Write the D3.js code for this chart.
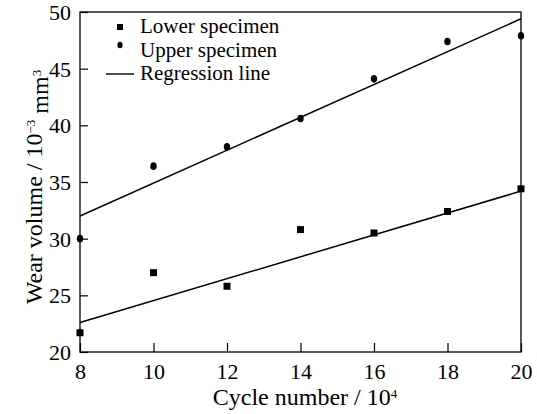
<!DOCTYPE html>
<html>
<head>
<meta charset="utf-8">
<script src="https://cdn.jsdelivr.net/npm/d3@7"></script>
<style>
  body { margin: 0; background: #fff; }
  text { font-family: "Liberation Serif", "Times New Roman", serif; fill: #000; }
</style>
</head>
<body>
<div id="chart"></div>
<script>
// chart values
var cycles = [8, 10, 12, 14, 16, 18, 20];
var lowerWear = [21.7, 27.0, 25.8, 30.8, 30.5, 32.4, 34.4];
var upperWear = [30.0, 36.4, 38.1, 40.6, 44.1, 47.4, 47.9];
// regression lines (end points)
var regX = [8, 20];
var lowerReg = [22.6, 34.2];
var upperReg = [32.0, 49.4];
var xTicks = [8, 10, 12, 14, 16, 18, 20];
var yTicks = [20, 25, 30, 35, 40, 45, 50];

var svgWidth = 537;
var svgHeight = 414;
var margin = { top: 12, right: 16, bottom: 62, left: 80 };
var width = svgWidth - margin.left - margin.right;
var height = svgHeight - margin.top - margin.bottom;

var svg = d3.select("#chart")
  .append("svg")
  .attr("width", svgWidth)
  .attr("height", svgHeight);

var chartGroup = svg.append("g")
  .attr("transform", `translate(${margin.left}, ${margin.top})`);

var x = d3.scaleLinear().domain([8, 20]).range([0, width]);
var y = d3.scaleLinear().domain([20, 50]).range([height, 0]);

// frame
chartGroup.append("rect")
  .attr("width", width)
  .attr("height", height)
  .attr("fill", "none")
  .attr("stroke", "#000")
  .attr("stroke-width", 1.3);

// axes with inward ticks
var bottomAxis = d3.axisBottom(x).tickValues(xTicks).tickSize(-9).tickPadding(11);
var leftAxis = d3.axisLeft(y).tickValues(yTicks).tickSize(-8).tickPadding(9);

var xAxis = chartGroup.append("g")
  .attr("transform", `translate(0, ${height})`)
  .call(bottomAxis);
var yAxis = chartGroup.append("g")
  .call(leftAxis);

[xAxis, yAxis].forEach(function(a) {
  a.select(".domain").remove();
  a.selectAll("line").attr("stroke", "#000").attr("stroke-width", 1.2);
  a.selectAll("text")
    .style("font-family", "Liberation Serif, serif")
    .style("font-size", "22px")
    .attr("fill", "#000");
});
xAxis.selectAll("text").attr("dy", "0.71em");
yAxis.selectAll("text").attr("dy", "0.34em");

// regression lines
var line = d3.line()
  .x(d => x(d[0]))
  .y(d => y(d[1]));

[lowerReg, upperReg].forEach(function(r) {
  chartGroup.append("path")
    .datum(regX.map((v, i) => [v, r[i]]))
    .attr("d", line)
    .attr("fill", "none")
    .attr("stroke", "#000")
    .attr("stroke-width", 1.5);
});

// lower specimen squares
chartGroup.selectAll(".sq")
  .data(cycles.map((c, i) => [c, lowerWear[i]]))
  .enter()
  .append("rect")
  .attr("x", d => x(d[0]) - 3.5)
  .attr("y", d => y(d[1]) - 3.5)
  .attr("width", 7)
  .attr("height", 7)
  .attr("fill", "#000");

// upper specimen dots
chartGroup.selectAll(".dot")
  .data(cycles.map((c, i) => [c, upperWear[i]]))
  .enter()
  .append("ellipse")
  .attr("cx", d => x(d[0]))
  .attr("cy", d => y(d[1]))
  .attr("rx", 3.2)
  .attr("ry", 3.8)
  .attr("fill", "#000");

// legend
var legend = svg.append("g");
legend.append("rect")
  .attr("x", 117).attr("y", 24).attr("width", 6).attr("height", 6).attr("fill", "#000");
legend.append("ellipse")
  .attr("cx", 120).attr("cy", 45).attr("rx", 2.6).attr("ry", 3.2).attr("fill", "#000");
legend.append("line")
  .attr("x1", 106).attr("x2", 134).attr("y1", 74).attr("y2", 74)
  .attr("stroke", "#000").attr("stroke-width", 1.4);

var legendLabels = ["Lower specimen", "Upper specimen", "Regression line"];
legend.selectAll(".lbl")
  .data(legendLabels)
  .enter()
  .append("text")
  .attr("x", 140)
  .attr("y", (d, i) => 26 + i * 23.5)
  .attr("dy", "0.35em")
  .style("font-size", "21px")
  .text(d => d);

// x axis title
var xTitle = svg.append("text")
  .attr("x", 305)
  .attr("y", 405)
  .attr("text-anchor", "middle")
  .style("font-size", "24px");
xTitle.append("tspan").text("Cycle number / 10");
xTitle.append("tspan").attr("dy", "-0.55em").style("font-size", "13px").text("4");

// y axis title
var yTitle = svg.append("text")
  .attr("transform", `translate(42, 187) rotate(-90)`)
  .attr("text-anchor", "middle")
  .style("font-size", "24px");
yTitle.append("tspan").text("Wear volume / 10");
yTitle.append("tspan").attr("dy", "-0.55em").style("font-size", "13px").text("−3");
yTitle.append("tspan").attr("dy", "0.55em").text(" mm");
yTitle.append("tspan").attr("dy", "-0.55em").style("font-size", "13px").text("3");
</script>
</body>
</html>
